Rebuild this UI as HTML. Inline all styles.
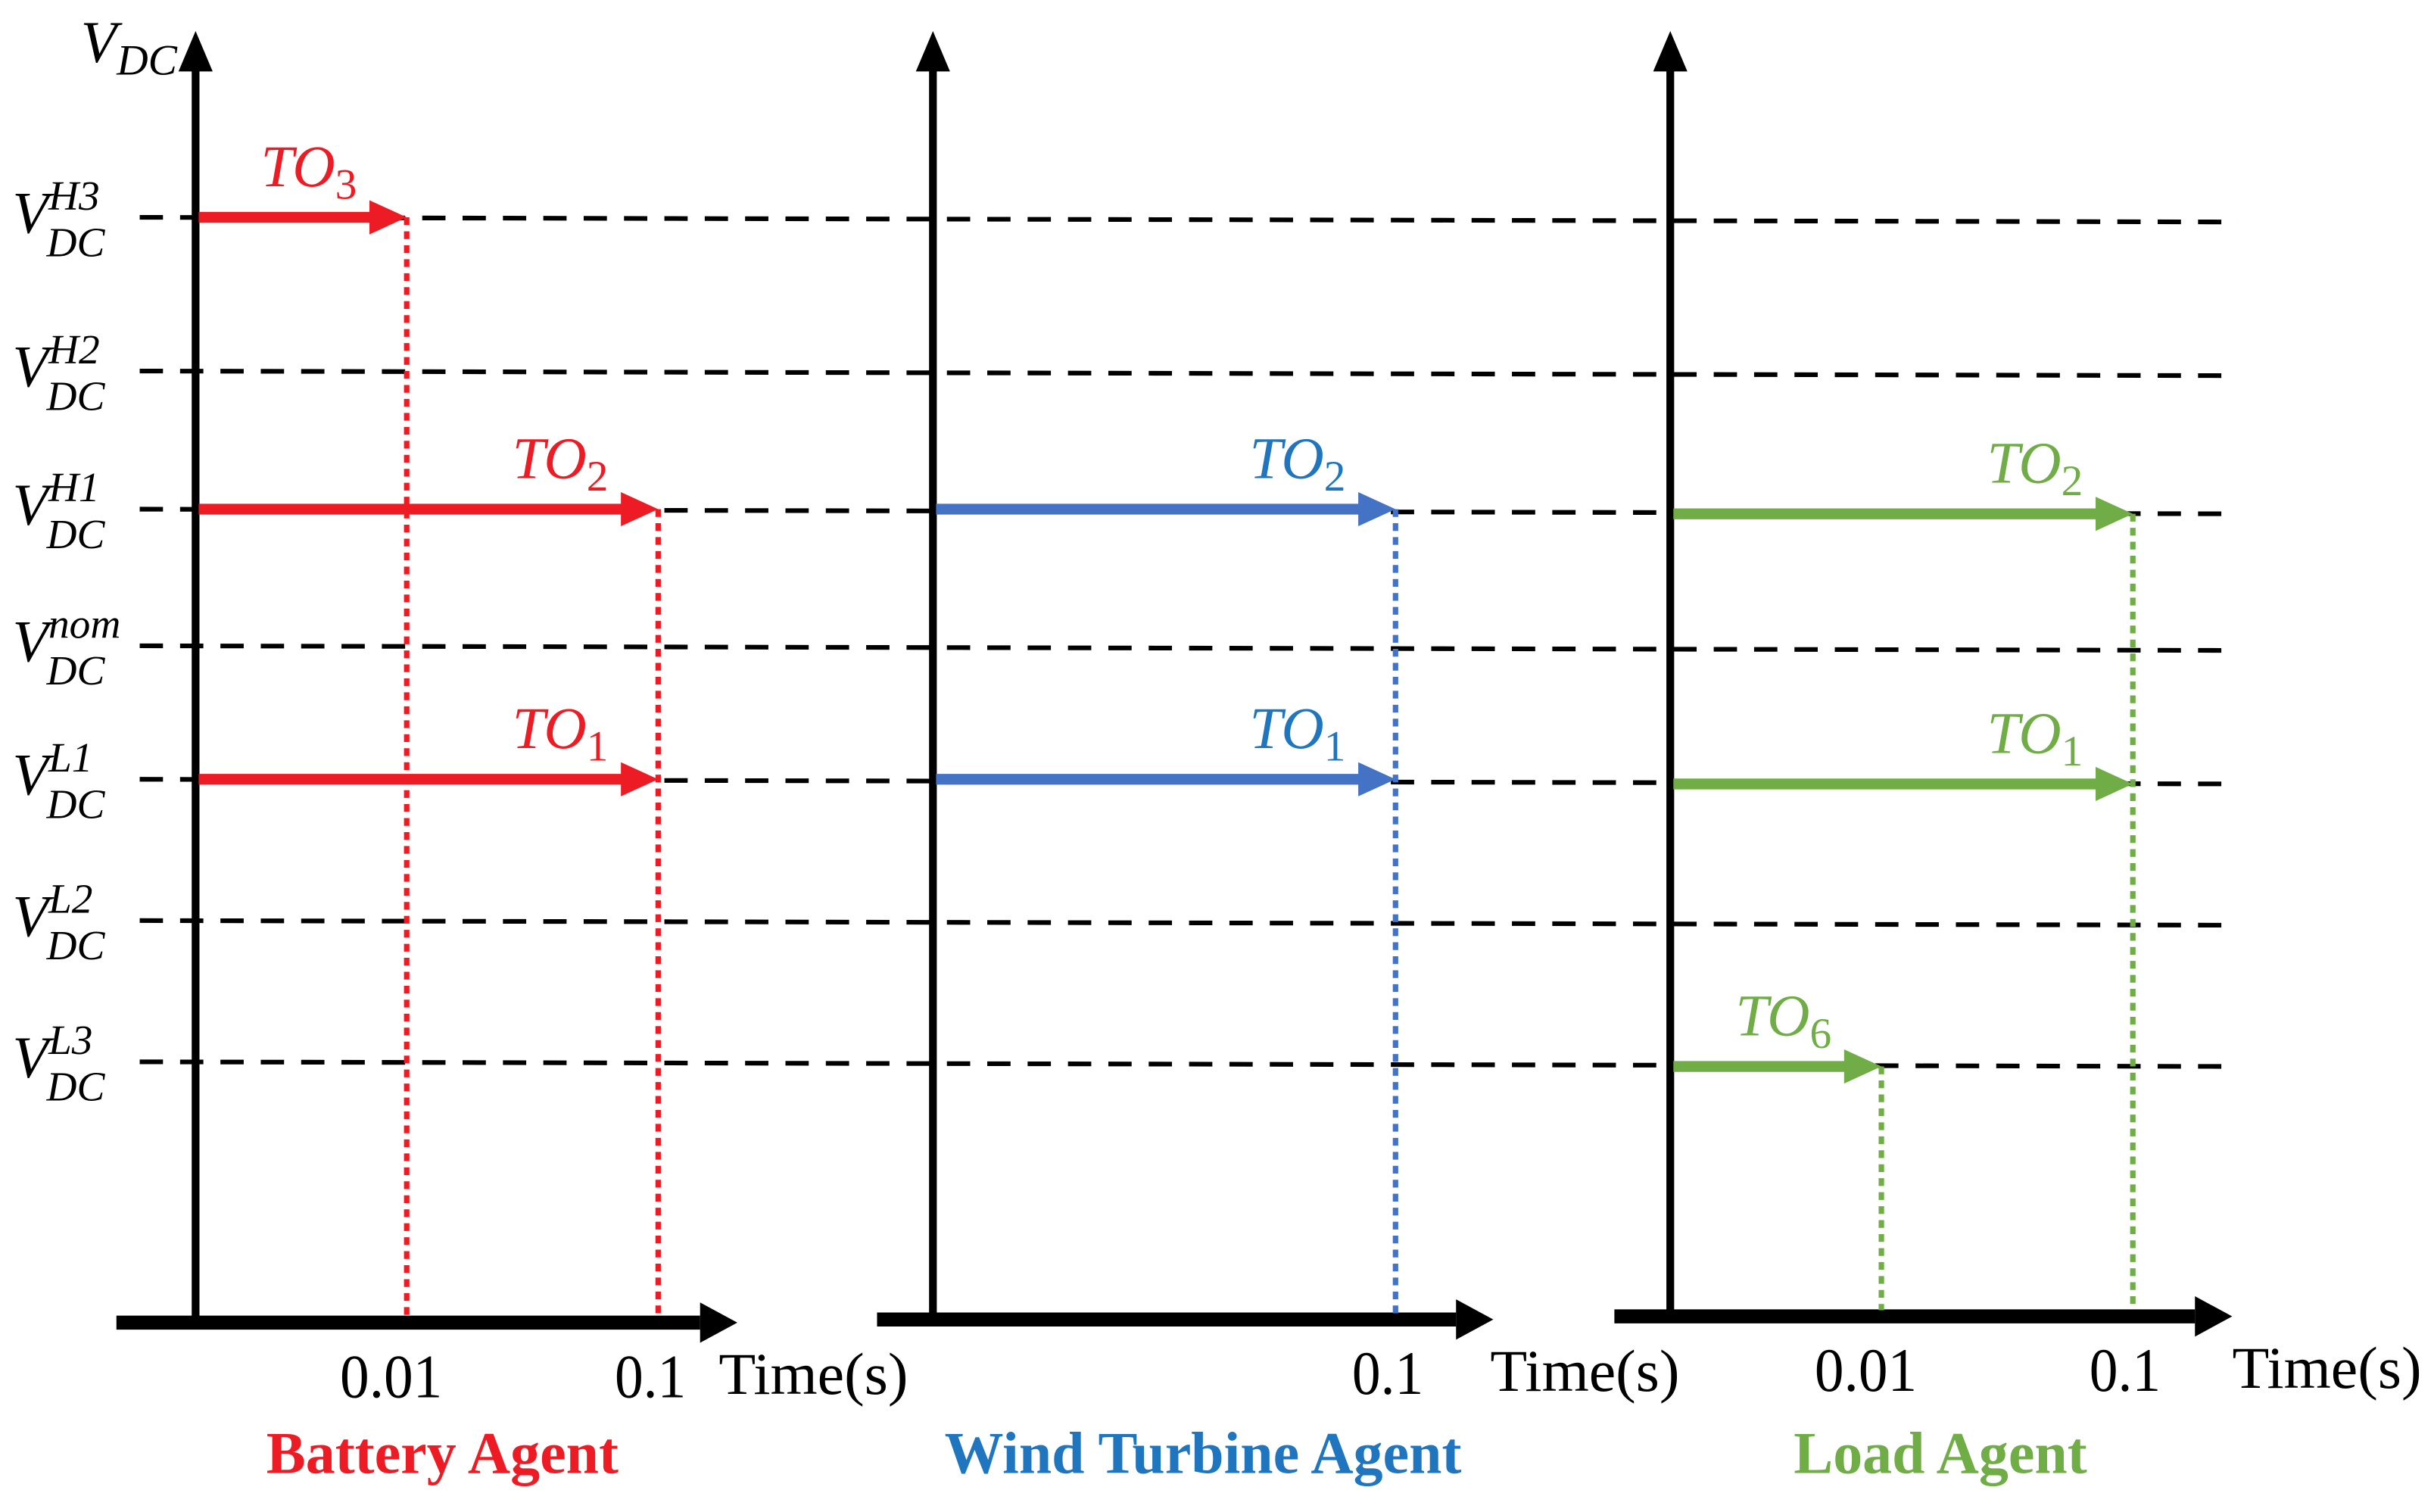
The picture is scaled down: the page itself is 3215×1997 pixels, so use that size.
<!DOCTYPE html>
<html><head><meta charset="utf-8"><style>html,body{margin:0;padding:0;background:#fff}svg{display:block}</style></head>
<body>
<svg id="chart" width="3215" height="1997" viewBox="0 0 1568 974" preserveAspectRatio="none" xmlns="http://www.w3.org/2000/svg">
<g id="layer"></g>
</svg>
<script>
const levelNames = ["H3","H2","H1","nom","L1","L2","L3"];
const levelY = [140,239,328,416,502,593,684]; // vertical position of each voltage level
const panelNames = ["Battery Agent","Wind Turbine Agent","Load Agent"];
const panelColors = ["#ED1C24","#4472C4","#70AD47"];
const titleColors = ["#ED1C24","#1F76BE","#70AD47"];
const labelColors = ["#ED1C24","#1F76BE","#70AD47"];
const panelX = [126,601,1076];
const panelTilt = [0,0,3];
const arrowPanel = [0,0,0,1,1,2,2,2];
const arrowLevel = ["H3","H1","L1","H1","L1","H1","L1","L3"];
const arrowTime  = [0.01,0.1,0.1,0.1,0.1,0.1,0.1,0.01];
const arrowLabel = ["3","2","1","2","1","2","1","6"];
const tickTimes = [[0.01,0.1],[0.1],[0.01,0.1]];
const tickLabels = [["0.01","0.1"],["0.1"],["0.01","0.1"]];

const NS="http://www.w3.org/2000/svg";
const layer=document.getElementById('layer');
function mk(tag,attrs,parent){const e=document.createElementNS(NS,tag);for(const k in attrs)e.setAttribute(k,attrs[k]);(parent||layer).appendChild(e);return e;}
function xOf(p,t){return panelX[p]+298+(Math.log10(t)+1)*162;}
function yOf(p,lv){return levelY[levelNames.indexOf(lv)]+panelTilt[p];}
const axisY=[852,850,848];
const axStart=[75,565,1040];
const axTip=[475,962,1438];
const timeTitleX=[463,960,1438];

levelNames.forEach((lv,i)=>{
  const l=mk('line',{x1:90,y1:levelY[i],x2:1442,y2:levelY[i]+3,stroke:'#000','stroke-width':3,'stroke-dasharray':'15 11'});
  
  
  const t=mk('text',{x:8,y:levelY[i]+10,'font-family':'Liberation Serif, serif','font-style':'italic','font-size':38,fill:'#000'});
  
  
  const a=mk('tspan',{},t);a.textContent='V';
  const b=mk('tspan',{dy:-15,'font-size':27},t);b.textContent=lv;
  const c=mk('tspan',{x:30,dy:30,'font-size':27},t);c.textContent='DC';
});
const vt=mk('text',{x:52,y:40,'font-family':'Liberation Serif, serif','font-style':'italic','font-size':38});


const v1=mk('tspan',{},vt);v1.textContent='V';
const v2=mk('tspan',{dy:8,'font-size':28},vt);v2.textContent='DC';

panelNames.forEach((nm,p)=>{
  const x0=panelX[p];
  const ya=mk('line',{x1:x0,y1:axisY[p],x2:x0,y2:42,stroke:'#000','stroke-width':5});
  
  
  const yh=mk('path',{d:`M${x0-11},46 L${x0},20 L${x0+11},46z`,fill:'#000'});
  
  
  const ax0=axStart[p], ax1=axTip[p]-24;
  const xa=mk('line',{x1:ax0,y1:axisY[p],x2:ax1,y2:axisY[p],stroke:'#000','stroke-width':9});
  
  
  const xh=mk('path',{d:`M${ax1},${axisY[p]-13} L${ax1+24},${axisY[p]} L${ax1},${axisY[p]+13}z`,fill:'#000'});
  
  
  tickTimes[p].forEach((t,i)=>{
    const lab=tickLabels[p][i];
    const tx=mk('text',{x:xOf(p,t)-(lab.length>3?10:5),y:axisY[p]+48,'text-anchor':'middle','font-family':'Liberation Serif, serif','font-size':40,fill:'#000',textLength:lab.length>3?66:46,lengthAdjust:'spacingAndGlyphs'});
    tx.textContent=lab;
    
    
  });
  const tt=mk('text',{x:timeTitleX[p],y:axisY[p]+46,'font-family':'Liberation Serif, serif','font-size':38,fill:'#000',textLength:122,lengthAdjust:'spacingAndGlyphs'});
  tt.textContent='Time(s)';
  
  
  const ti=mk('text',{x:x0+159+(p===1?15:p===2?15:0),y:949,'text-anchor':'middle','font-family':'Liberation Serif, serif','font-weight':'bold','font-size':38,fill:titleColors[p]});
  ti.textContent=nm;
  
  
});

const seen={};
arrowPanel.forEach((p,i)=>{
  const key=p+'_'+arrowTime[i];
  const x=xOf(p,arrowTime[i]);
  const y=yOf(p,arrowLevel[i]);
  if(!seen[key]||y<seen[key].y) seen[key]={p,x,y};
});
Object.values(seen).forEach(s=>{
  const d=mk('line',{x1:s.x,y1:s.y,x2:s.x,y2:axisY[s.p]-4,stroke:panelColors[s.p],'stroke-width':3.5,'stroke-dasharray':'5 4'});
  
  
});

arrowPanel.forEach((p,i)=>{
  const x0=panelX[p]+2, x1=xOf(p,arrowTime[i]), y=yOf(p,arrowLevel[i]), c=panelColors[p];
  const g=mk('g',{});
  
  
  mk('line',{x1:x0,y1:y,x2:x1-22,y2:y,stroke:c,'stroke-width':7},g);
  mk('path',{d:`M${x1-24},${y-11} L${x1},${y} L${x1-24},${y+11}z`,fill:c},g);
  const t=mk('text',{x:x1-94,y:y-20,'font-family':'Liberation Serif, serif','font-style':'italic','font-size':38,fill:labelColors[p]},g);
  const a=mk('tspan',{},t);a.textContent='TO';
  const b=mk('tspan',{dy:8,'font-size':28,'font-style':'normal'},t);b.textContent=arrowLabel[i];
});
</script>
</body></html>
